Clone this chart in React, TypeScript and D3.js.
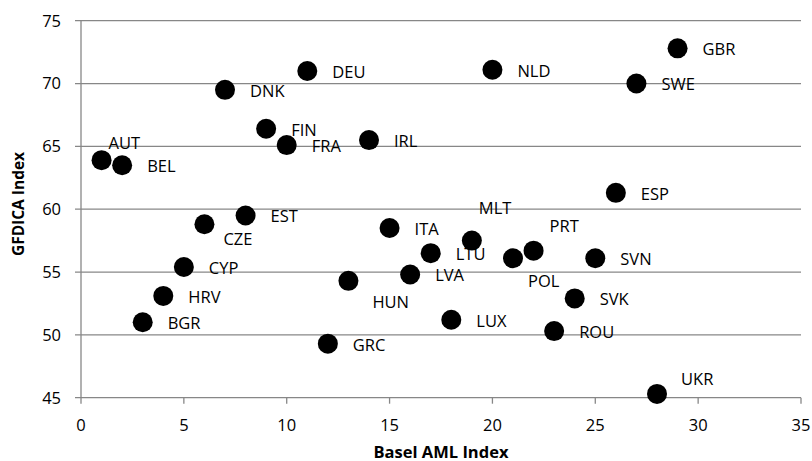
import React from "react";
import * as d3 from "d3";

const codes = ["AUT","BEL","BGR","HRV","CYP","CZE","DNK","EST","FIN","FRA","DEU","GRC","HUN","IRL","ITA","LVA","LTU","LUX","MLT","NLD","POL","PRT","ROU","SVK","SVN","ESP","SWE","UKR","GBR"];
const baselValues = [1,2,3,4,5,6,7,8,9,10,11,12,13,14,15,16,17,18,19,20,21,22,23,24,25,26,27,28,29];
const gfdicaValues = [63.9,63.5,51.0,53.1,55.4,58.8,69.5,59.5,66.4,65.1,71.0,49.3,54.3,65.5,58.5,54.8,56.5,51.2,57.5,71.1,56.1,56.7,50.3,52.9,56.1,61.3,70.0,45.3,72.8];
const xTicks = [0,5,10,15,20,25,30,35];
const yTicks = [45,50,55,60,65,70,75];
const xTitle = "Basel AML Index";
const yTitle = "GFDICA Index";

const W = 812, H = 461;
const left = 81, right = 801, top = 20.7, bottom = 397.7;
const FONT = "'Open Sans', 'Noto Sans', sans-serif";
const GRID = "#878787";

const labelOffsets: Record<string, [number, number]> = {
  AUT: [7, -17], CZE: [19, 15], MLT: [7, -33], PRT: [16, -25],
  POL: [15, 23], HUN: [24, 21], UKR: [24, -15],
};

export default function App() {
  const x = d3.scaleLinear().domain([0, 35]).range([left, right]);
  const y = d3.scaleLinear().domain([45, 75]).range([bottom, top]);
  const pts = codes.map((c, i) => ({ c, xv: baselValues[i], yv: gfdicaValues[i] }));
  return (
    <div style={{ position: "absolute", left: 0, top: 0 }}>
      <svg width={W} height={H} style={{ display: "block", background: "#fff" }}>
        {yTicks.map((t) => (
          <line key={"g" + t} x1={left - 6} x2={right} y1={y(t)} y2={y(t)} stroke={GRID} strokeWidth={1.3} />
        ))}
        <line x1={left} x2={left} y1={top} y2={bottom} stroke={GRID} strokeWidth={1.3} />
        {xTicks.map((t) => (
          <line key={"xt" + t} x1={x(t)} x2={x(t)} y1={bottom} y2={bottom + 6} stroke={GRID} strokeWidth={1.3} />
        ))}
        {yTicks.map((t) => (
          <text key={"yl" + t} x={left - 20} y={y(t)} dy="0.36em" textAnchor="end" fontFamily={FONT} fontSize={16.5} fill="#000">{t}</text>
        ))}
        {xTicks.map((t) => (
          <text key={"xl" + t} x={x(t)} y={bottom + 27} dy="0.36em" textAnchor="middle" fontFamily={FONT} fontSize={16.5} fill="#000">{t}</text>
        ))}
        <text x={(left + right) / 2} y={457.5} textAnchor="middle" fontFamily={FONT} fontSize={16.5} fontWeight="bold" fill="#000">{xTitle}</text>
        <text transform={`translate(18,204) rotate(-90)`} dy="0.36em" textAnchor="middle" fontFamily={FONT} fontSize={15.5} fontWeight="bold" fill="#000">{yTitle}</text>
        {pts.map((p) => (
          <circle key={"c" + p.c} cx={x(p.xv)} cy={y(p.yv)} r={10} fill="#000" />
        ))}
        {pts.map((p) => {
          const [dx, dy] = labelOffsets[p.c] || [25, 1];
          return (
            <text key={"t" + p.c} x={x(p.xv) + dx} y={y(p.yv) + dy} dy="0.36em" fontFamily={FONT} fontSize={16.5} fill="#000">{p.c}</text>
          );
        })}
      </svg>
    </div>
  );
}
